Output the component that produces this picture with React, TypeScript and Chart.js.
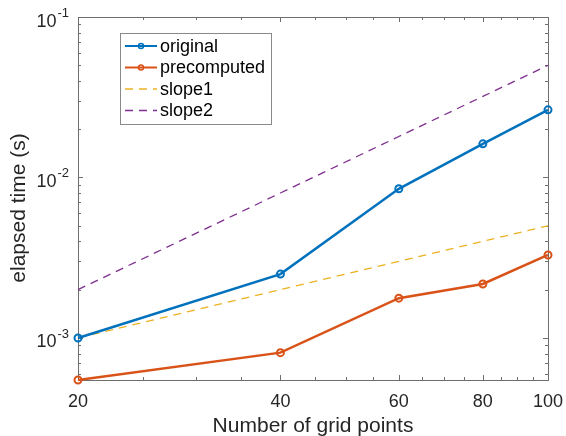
import React, { useEffect, useRef } from 'react';
import { Chart, registerables } from 'chart.js';

Chart.register(...registerables);

const gridPoints = [20, 40, 60, 80, 100];
const original = [1.0e-3, 2.5e-3, 8.5e-3, 1.62e-2, 2.64e-2];
const precomputed = [5.47e-4, 8.1e-4, 1.77e-3, 2.17e-3, 3.29e-3];
const slope1 = [1e-3, 2e-3, 3e-3, 4e-3, 5e-3];
const slope2 = [2e-3, 8e-3, 1.8e-2, 3.2e-2, 5e-2];

const seriesLabels = ['original', 'precomputed', 'slope1', 'slope2'];
const seriesColors = ['#0072BD', '#D95319', '#EDB120', '#7E2F8E'];

const xTicks = [20, 40, 60, 80, 100];
const xMinorTicks = [25, 30, 35, 45, 50, 55, 65, 70, 75, 85, 90, 95];
const yTicks = [1e-3, 1e-2, 1e-1];
const yTickExps = ['-3', '-2', '-1'];
const yMinorTicks = [
  6e-4, 7e-4, 8e-4, 9e-4,
  2e-3, 3e-3, 4e-3, 5e-3, 6e-3, 7e-3, 8e-3, 9e-3,
  2e-2, 3e-2, 4e-2, 5e-2, 6e-2, 7e-2, 8e-2, 9e-2,
];
const xMin = 20;
const xMax = 100;
const yMin = 5.47e-4;
const yMax = 1e-1;
const xTitle = 'Number of grid points';
const yTitle = 'elapsed time (s)';

const FONT = '"Liberation Sans", Arial, Helvetica, sans-serif';
const TEXT = '#262626';
const AXIS = '#6e6e6e';

const axesPlugin = {
  id: 'matlabAxes',
  beforeDatasetsDraw(chart: any) {
    const { ctx, chartArea: a, scales } = chart;
    const xs = scales.x;
    const ys = scales.y;
    ctx.save();
    ctx.strokeStyle = AXIS;
    ctx.lineWidth = 1;
    ctx.strokeRect(a.left + 0.5, a.top + 0.5, a.right - a.left, a.bottom - a.top);
    ctx.beginPath();
    const drawX = (v: number, len: number) => {
      const px = Math.round(xs.getPixelForValue(v)) + 0.5;
      ctx.moveTo(px, a.bottom);
      ctx.lineTo(px, a.bottom - len);
      ctx.moveTo(px, a.top);
      ctx.lineTo(px, a.top + len);
    };
    const drawY = (v: number, len: number) => {
      const py = Math.round(ys.getPixelForValue(v)) + 0.5;
      ctx.moveTo(a.left, py);
      ctx.lineTo(a.left + len, py);
      ctx.moveTo(a.right, py);
      ctx.lineTo(a.right - len, py);
    };
    xTicks.forEach((v) => drawX(v, 5));
    xMinorTicks.forEach((v) => drawX(v, 3));
    yTicks.forEach((v) => drawY(v, 5));
    yMinorTicks.forEach((v) => drawY(v, 3));
    ctx.stroke();

    // tick labels
    ctx.fillStyle = TEXT;
    ctx.font = `18px ${FONT}`;
    ctx.textAlign = 'center';
    ctx.textBaseline = 'alphabetic';
    xTicks.forEach((v) => {
      ctx.fillText(String(v), xs.getPixelForValue(v), a.bottom + 27);
    });
    yTicks.forEach((v, i) => {
      const py = ys.getPixelForValue(v);
      ctx.font = `13px ${FONT}`;
      const we = ctx.measureText(yTickExps[i]).width;
      ctx.font = `18px ${FONT}`;
      const wb = ctx.measureText('10').width;
      const right = a.left - 9;
      ctx.textAlign = 'left';
      ctx.fillText('10', right - we - 1 - wb, py + 9.5);
      ctx.font = `13px ${FONT}`;
      ctx.fillText(yTickExps[i], right - we, py);
    });

    // axis titles
    ctx.font = `21px ${FONT}`;
    ctx.textAlign = 'center';
    ctx.textBaseline = 'alphabetic';
    ctx.fillText(xTitle, (a.left + a.right) / 2, a.bottom + 52);
    ctx.save();
    ctx.translate(19, 208);
    ctx.rotate(-Math.PI / 2);
    ctx.textBaseline = 'middle';
    ctx.fillText(yTitle, 0, 0);
    ctx.restore();
    ctx.restore();
  },
  afterDraw(chart: any) {
    const { ctx } = chart;
    const ds = chart.data.datasets;
    const bx = 120, by = 33, bw = 151, bh = 91;
    ctx.save();
    ctx.fillStyle = '#ffffff';
    ctx.fillRect(bx, by, bw, bh);
    ctx.strokeStyle = '#8a8a8a';
    ctx.lineWidth = 1;
    ctx.strokeRect(bx + 0.5, by + 0.5, bw, bh);
    const rows = [46, 67.5, 89, 110.5];
    ds.forEach((d: any, i: number) => {
      const y = rows[i];
      ctx.strokeStyle = d.borderColor;
      ctx.lineWidth = d.borderDash && d.borderDash.length ? 1.3 : 2;
      ctx.setLineDash(d.borderDash || []);
      ctx.beginPath();
      ctx.moveTo(125, y);
      ctx.lineTo(157, y);
      ctx.stroke();
      ctx.setLineDash([]);
      if (d.pointRadius > 0) {
        ctx.lineWidth = 1.5;
        ctx.beginPath();
        ctx.arc(141, y, 2.5, 0, Math.PI * 2);
        ctx.stroke();
      }
      ctx.fillStyle = '#000000';
      ctx.font = `18px ${FONT}`;
      ctx.textAlign = 'left';
      ctx.textBaseline = 'middle';
      ctx.fillText(d.label, 160, y + 1);
    });
    ctx.restore();
  },
};

function pts(ys: number[]) {
  return gridPoints.map((x, i) => ({ x, y: ys[i] }));
}

export default function App() {
  const ref = useRef<HTMLCanvasElement | null>(null);
  useEffect(() => {
    if (!ref.current) return;
    const values = [original, precomputed, slope1, slope2];
    const chart = new Chart(ref.current, {
      type: 'line',
      data: {
        datasets: values.map((v, i) => {
          const dashed = i >= 2;
          return {
            label: seriesLabels[i],
            data: pts(v),
            borderColor: seriesColors[i],
            backgroundColor: 'transparent',
            borderWidth: dashed ? 1.3 : 2.5,
            borderDash: dashed ? [8, 6] : [],
            pointRadius: dashed ? 0 : 3.5,
            pointBorderWidth: 2,
            pointBackgroundColor: 'transparent',
            pointBorderColor: seriesColors[i],
            tension: 0,
            clip: false as any,
          };
        }),
      },
      options: {
        animation: false,
        responsive: false,
        events: [],
        layout: { padding: { top: 17, right: 18, left: 0, bottom: 0 } },
        plugins: { legend: { display: false }, tooltip: { enabled: false } },
        scales: {
          x: {
            type: 'logarithmic',
            min: xMin,
            max: xMax,
            grid: { display: false },
            border: { display: false },
            ticks: { display: false },
            afterFit: (s: any) => { s.height = 56; },
          },
          y: {
            type: 'logarithmic',
            min: yMin,
            max: yMax,
            grid: { display: false },
            border: { display: false },
            ticks: { display: false },
            afterFit: (s: any) => { s.width = 78; },
          },
        },
      } as any,
      plugins: [axesPlugin],
    });
    return () => chart.destroy();
  }, []);
  return (
    <div style={{ position: 'fixed', left: 0, top: 0, width: 566, height: 436, background: '#fff' }}>
      <canvas ref={ref} width={566} height={436} />
    </div>
  );
}
